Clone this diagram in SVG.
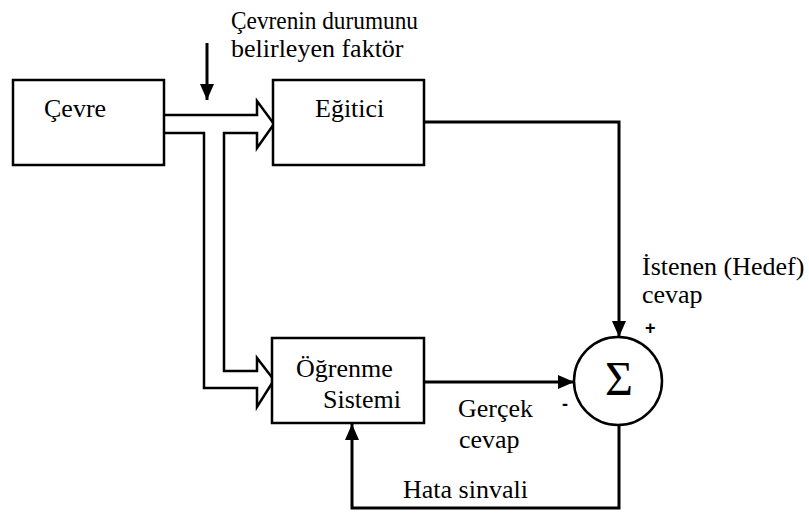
<svg xmlns="http://www.w3.org/2000/svg" width="809" height="513" viewBox="0 0 809 513">
<style>
.box{fill:#fff;stroke:#000;stroke-width:2.5}
.t{font-family:'Liberation Serif','Times New Roman',serif;font-size:26px;fill:#000}
.s{font-family:'Liberation Sans',Arial,sans-serif;font-size:18px;font-weight:bold;fill:#000}
.ln{fill:none;stroke:#000;stroke-width:3}
.pipe{fill:#fff;stroke:#000;stroke-width:2.5;stroke-linejoin:miter}
</style>
<defs>
<marker id="ah" markerUnits="userSpaceOnUse" markerWidth="16" markerHeight="14" refX="16" refY="7" orient="auto">
<path d="M0,0 L16,7 L0,14 Z" fill="#000"/>
</marker>
</defs>
<rect width="809" height="513" fill="#fff"/>
<g id="connectors">
<path class="pipe" d="M164,115 H257 V101 L274,124 L257,148 V133 H224 V371 H257 V358 L274,380 L257,407 V388 H204 V133 H164"/>
<path class="ln" d="M207,43 V100" marker-end="url(#ah)"/>
<path class="ln" d="M424,122 H619 V337" marker-end="url(#ah)"/>
<path class="ln" d="M424,382 H574" marker-end="url(#ah)"/>
<path class="ln" d="M619,425 V508 H352 V424" marker-end="url(#ah)"/>
</g>
<g id="cevre">
<rect class="box" x="13" y="80" width="151" height="85"/>
<text class="t" x="44" y="117">Çevre</text>
</g>
<g id="egitici">
<rect class="box" x="273" y="80" width="151" height="85"/>
<text class="t" x="315" y="117">Eğitici</text>
</g>
<g id="ogrenme">
<rect class="box" x="272" y="338" width="152" height="85"/>
<text class="t" x="296" y="377">Öğrenme</text>
<text class="t" x="323" y="408">Sistemi</text>
</g>
<g id="toplam">
<circle cx="618" cy="381" r="44" fill="#fff" stroke="#000" stroke-width="2.5"/>
<text class="t" x="619" y="395" text-anchor="middle" style="font-size:48px">Σ</text>
</g>
<g id="labels">
<text class="t" x="231" y="29" textLength="187" lengthAdjust="spacingAndGlyphs">Çevrenin durumunu</text>
<text class="t" x="231" y="57">belirleyen faktör</text>
<text class="t" x="642" y="275">İstenen (Hedef)</text>
<text class="t" x="642" y="303">cevap</text>
<text class="s" x="645" y="334">+</text>
<text class="s" x="562" y="410">-</text>
<text class="t" x="458" y="417">Gerçek</text>
<text class="t" x="459" y="448">cevap</text>
<text class="t" x="403" y="498">Hata sinvali</text>
</g>
</svg>
